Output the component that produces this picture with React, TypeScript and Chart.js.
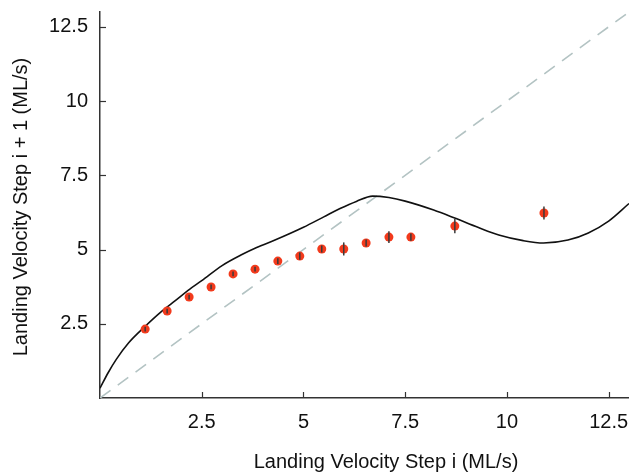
import React, { useEffect, useRef } from "react";
import { Chart, registerables } from "chart.js";

Chart.register(...registerables);

// Measured landing velocities: step i vs. step i + 1 (ML/s), with error half-widths
const STEP_I = [1.11, 1.65, 2.19, 2.73, 3.27, 3.81, 4.37, 4.91, 5.45, 5.99, 6.54, 7.1, 7.64, 8.72, 10.91];
const STEP_NEXT = [2.32, 2.93, 3.4, 3.74, 4.18, 4.34, 4.61, 4.78, 5.02, 5.02, 5.22, 5.42, 5.42, 5.79, 6.23];
const STEP_ERR = [0.08, 0.08, 0.08, 0.08, 0.08, 0.08, 0.1, 0.12, 0.12, 0.22, 0.12, 0.2, 0.12, 0.24, 0.22];

// Model return map
const FIT_X = [0, 0.2, 0.4, 0.7, 1.1, 1.5, 1.85, 2.2, 2.5, 3.0, 3.5, 3.85, 4.3, 5.0, 5.5, 5.9, 6.3, 6.7, 7.1, 7.5, 8.2, 8.7, 9.3, 9.8, 10.4, 10.9, 11.5, 12.0, 12.5, 13.0];
const FIT_Y = [0.33, 0.85, 1.3, 1.85, 2.4, 2.9, 3.28, 3.66, 3.95, 4.46, 4.84, 5.07, 5.32, 5.75, 6.1, 6.38, 6.62, 6.8, 6.75, 6.63, 6.33, 6.07, 5.74, 5.49, 5.3, 5.22, 5.32, 5.56, 5.96, 6.55];

// Identity line (step i + 1 = step i)
const IDENTITY = [0, 13];

const TICKS = [2.5, 5, 7.5, 10, 12.5];
const AXIS_MIN = 0;
const AXIS_MAX = 13;
const X_TITLE = "Landing Velocity Step i (ML/s)";
const Y_TITLE = "Landing Velocity Step i + 1 (ML/s)";

const FONT_FAMILY = '"Liberation Sans", Arial, Helvetica, sans-serif';

const decorations = {
  id: "decorations",
  afterDatasetsDraw(chart: any) {
    const { ctx, scales } = chart;
    const x = scales.x;
    const y = scales.y;
    ctx.save();
    ctx.strokeStyle = "#3a3a3a";
    ctx.lineWidth = 1.5;
    STEP_I.forEach((v, i) => {
      const px = x.getPixelForValue(v);
      const top = y.getPixelForValue(STEP_NEXT[i] + STEP_ERR[i]);
      const bot = y.getPixelForValue(STEP_NEXT[i] - STEP_ERR[i]);
      ctx.beginPath();
      ctx.moveTo(px, top);
      ctx.lineTo(px, bot);
      ctx.stroke();
    });
    ctx.restore();
  },
  afterDraw(chart: any) {
    const { ctx, scales, chartArea } = chart;
    const x = scales.x;
    const y = scales.y;
    ctx.save();
    ctx.strokeStyle = "#333";
    ctx.lineWidth = 1.2;
    TICKS.forEach((v) => {
      const px = Math.round(x.getPixelForValue(v)) + 0.5;
      ctx.beginPath();
      ctx.moveTo(px, chartArea.bottom);
      ctx.lineTo(px, chartArea.bottom - 6);
      ctx.stroke();
      const py = Math.round(y.getPixelForValue(v)) + 0.5;
      ctx.beginPath();
      ctx.moveTo(chartArea.left, py);
      ctx.lineTo(chartArea.left + 6, py);
      ctx.stroke();
    });
    ctx.fillStyle = "#111";
    ctx.font = `20px ${FONT_FAMILY}`;
    ctx.textAlign = "center";
    ctx.textBaseline = "middle";
    ctx.fillText(X_TITLE, 386, 462);
    ctx.translate(21, (chartArea.top + chartArea.bottom) / 2 + 2);
    ctx.rotate(-Math.PI / 2);
    ctx.fillText(Y_TITLE, 0, 0);
    ctx.restore();
  },
};

export default function App() {
  const canvasRef = useRef<HTMLCanvasElement | null>(null);

  useEffect(() => {
    const canvas = canvasRef.current;
    if (!canvas) return;
    const fixedTicks = (scale: any) => {
      scale.ticks = TICKS.map((v) => ({ value: v }));
    };
    const chart = new Chart(canvas, {
      type: "scatter",
      data: {
        datasets: [
          {
            label: "measured",
            data: STEP_I.map((v, i) => ({ x: v, y: STEP_NEXT[i] })),
            backgroundColor: "#f23a1c",
            borderWidth: 0,
            pointRadius: 4.5,
            showLine: false,
          },
          {
            label: "model",
            type: "line",
            data: FIT_X.map((v, i) => ({ x: v, y: FIT_Y[i] })),
            borderColor: "#111",
            borderWidth: 1.6,
            pointRadius: 0,
            cubicInterpolationMode: "monotone",
            fill: false,
          },
          {
            label: "identity",
            type: "line",
            data: IDENTITY.map((v) => ({ x: v, y: v })),
            borderColor: "#b3c3c3",
            borderWidth: 1.6,
            borderDash: [13, 9],
            pointRadius: 0,
            fill: false,
          },
        ],
      },
      options: {
        animation: false,
        responsive: false,
        devicePixelRatio: 1,
        layout: { autoPadding: false, padding: { top: 12, right: 0, left: 0, bottom: 0 } },
        plugins: { legend: { display: false }, tooltip: { enabled: false } },
        scales: {
          x: {
            type: "linear",
            min: AXIS_MIN,
            max: AXIS_MAX,
            afterBuildTicks: fixedTicks,
            afterFit: (scale: any) => {
              scale.height = 74;
              scale.paddingLeft = 0;
              scale.paddingRight = 0;
            },
            grid: { display: false, drawTicks: false },
            border: { display: true, color: "#333", width: 1.5 },
            ticks: {
              padding: 12,
              color: "#111",
              font: { family: FONT_FAMILY, size: 20 },
              maxRotation: 0,
              callback: (v: any) => String(v),
            },
          },
          y: {
            type: "linear",
            min: AXIS_MIN,
            max: AXIS_MAX,
            afterBuildTicks: fixedTicks,
            afterFit: (scale: any) => {
              scale.width = 100;
              scale.paddingTop = 0;
              scale.paddingBottom = 0;
            },
            grid: { display: false, drawTicks: false },
            border: { display: true, color: "#333", width: 1.5 },
            ticks: {
              padding: 12,
              color: "#111",
              font: { family: FONT_FAMILY, size: 20 },
              callback: (v: any) => String(v),
            },
          },
        },
      },
      plugins: [decorations],
    });
    return () => chart.destroy();
  }, []);

  return (
    <div style={{ position: "absolute", left: 0, top: 0, width: 629, height: 472, background: "#fff" }}>
      <canvas ref={canvasRef} width={629} height={472} style={{ display: "block" }} />
    </div>
  );
}
